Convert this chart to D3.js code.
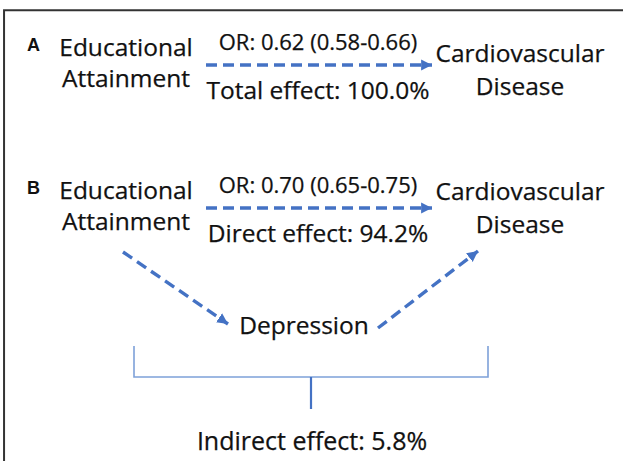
<!DOCTYPE html>
<html>
<head>
<meta charset="utf-8">
<script src="https://cdn.jsdelivr.net/npm/d3@7"></script>
<style>
  html, body { margin: 0; padding: 0; background: #fff; }
  text { font-family: "Open Sans", Lato, sans-serif; fill: #111; stroke: #111; stroke-width: 0.25px; }
</style>
</head>
<body>
<svg id="chart" width="623" height="461"></svg>
<script>
// data
const panels = ['A', 'B'];
const exposure = ['Educational', 'Attainment'];
const outcome = ['Cardiovascular', 'Disease'];
const mediator = 'Depression';
const oddsRatio = [0.62, 0.70];
const ciLow = [0.58, 0.65];
const ciHigh = [0.66, 0.75];
const effectNames = ['Total effect', 'Direct effect', 'Indirect effect'];
const effectShare = [100.0, 94.2, 5.8];

const svg = d3.select('#chart');
const blue = '#4472c4';

// layout grid (pixel space)
const x = d3.scaleLinear().domain([0, 1]).range([0, 623]);
const y = d3.scaleLinear().domain([0, 1]).range([0, 461]);

// frame: top and left edges only
svg.append('path')
    .attr('d', `M${x(0.0065)},${y(1)}V${y(0.022)}H${x(1)}`)
    .attr('fill', 'none')
    .attr('stroke', '#333')
    .attr('stroke-width', 2);

// arrowhead
svg.append('defs').append('marker')
    .attr('id', 'head')
    .attr('viewBox', '0 0 10 10')
    .attr('refX', 10).attr('refY', 5)
    .attr('markerWidth', 3.2).attr('markerHeight', 3.4)
    .attr('markerUnits', 'strokeWidth')
    .attr('orient', 'auto')
    .append('path')
    .attr('d', 'M0,0L10,5L0,10Z')
    .attr('fill', blue);

const fmt = d3.format('.2f');
const pct = d => d3.format('.1f')(d) + '%';
const big = '24.5px';

// panel rows: baseline of first text line, and outcome label shift
const rowY = [56, 199];
const outShift = [6, 1];

panels.forEach((p, i) => {
    const y0 = rowY[i];

    svg.append('text')
        .attr('x', 27).attr('y', y0 - 5)
        .style('font-family', 'Liberation Sans, Arial, sans-serif')
        .style('font-weight', 'bold')
        .style('stroke-width', 0)
        .style('font-size', '18px')
        .text(p);

    svg.selectAll(null)
        .data(exposure)
        .enter().append('text')
        .attr('x', 126)
        .attr('y', (d, j) => y0 + j * 31)
        .attr('text-anchor', 'middle')
        .style('font-size', big)
        .text(d => d);

    svg.selectAll(null)
        .data(outcome)
        .enter().append('text')
        .attr('x', 520)
        .attr('y', (d, j) => y0 + outShift[i] + j * 33)
        .attr('text-anchor', 'middle')
        .style('font-size', big)
        .text(d => d);

    svg.append('text')
        .attr('x', 318).attr('y', y0 - 6)
        .attr('text-anchor', 'middle')
        .style('font-size', '22px')
        .text(`OR: ${fmt(oddsRatio[i])} (${fmt(ciLow[i])}-${fmt(ciHigh[i])})`);

    svg.append('line')
        .attr('x1', 206).attr('x2', 432)
        .attr('y1', y0 + 9).attr('y2', y0 + 9)
        .attr('stroke', blue)
        .attr('stroke-width', 3.4)
        .attr('stroke-dasharray', '11,6')
        .attr('marker-end', 'url(#head)');

    svg.append('text')
        .attr('x', 318).attr('y', y0 + 43)
        .attr('text-anchor', 'middle')
        .style('font-size', big)
        .text(`${effectNames[i]}: ${pct(effectShare[i])}`);
});

// mediator
svg.append('text')
    .attr('x', 304).attr('y', 334)
    .attr('text-anchor', 'middle')
    .style('font-size', big)
    .text(mediator);

const diag = [
    [[123, 252], [228, 324]],
    [[378, 328], [478, 251]]
];
svg.selectAll(null)
    .data(diag)
    .enter().append('line')
    .attr('x1', d => d[0][0]).attr('y1', d => d[0][1])
    .attr('x2', d => d[1][0]).attr('y2', d => d[1][1])
    .attr('stroke', blue)
    .attr('stroke-width', 3.4)
    .attr('stroke-dasharray', '11,6')
    .attr('marker-end', 'url(#head)');

// bracket for indirect effect
svg.append('path')
    .attr('d', 'M134,346V377H488V346')
    .attr('fill', 'none')
    .attr('stroke', '#7ea1d9')
    .attr('stroke-width', 1.6);

svg.append('line')
    .attr('x1', 311).attr('x2', 311)
    .attr('y1', 377).attr('y2', 409)
    .attr('stroke', blue)
    .attr('stroke-width', 2.2);

svg.append('text')
    .attr('x', 312).attr('y', 450)
    .attr('text-anchor', 'middle')
    .style('font-size', '25px')
    .text(`${effectNames[2]}: ${pct(effectShare[2])}`);
</script>
</body>
</html>
